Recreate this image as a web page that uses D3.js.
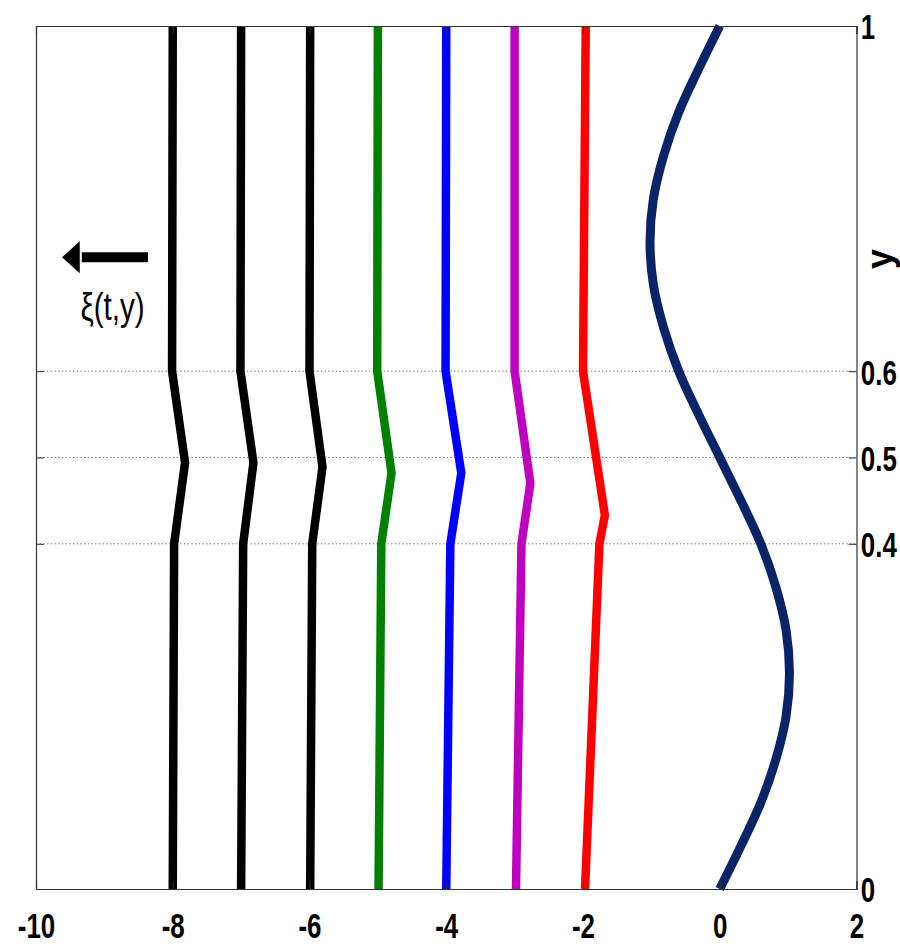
<!DOCTYPE html>
<html>
<head>
<meta charset="utf-8">
<script src="https://cdn.jsdelivr.net/npm/d3@7"></script>
<style>
  html, body { margin: 0; padding: 0; background: #fff; }
  svg { display: block; }
</style>
</head>
<body>
<svg id="chart" width="900" height="947"></svg>
<script>
// ---------- data ----------
const xTicks = [-10, -8, -6, -4, -2, 0, 2];
const yTicks = [0, 0.4, 0.5, 0.6, 1];
const yTickLabels = ["0", "0.4", "0.5", "0.6", "1"];
const gridY = [0.4, 0.5, 0.6];

// Fronts (kinked vertical lines): x and y of each vertex, bottom to top
const frontColors = ["#000000", "#000000", "#000000", "#008000", "#0000ff", "#bf00bf", "#ff0000"];
const frontX = [
  [-8.00, -7.98, -7.82, -8.01, -8.00],
  [-7.00, -6.97, -6.82, -7.01, -7.00],
  [-5.99, -5.96, -5.81, -6.00, -5.99],
  [-4.99, -4.95, -4.80, -5.01, -5.00],
  [-4.00, -3.94, -3.78, -4.01, -4.00],
  [-2.98, -2.90, -2.77, -3.00, -3.00],
  [-1.97, -1.76, -1.68, -2.00, -1.96]
];
const frontY = [
  [0, 0.4, 0.494, 0.6, 1],
  [0, 0.4, 0.494, 0.6, 1],
  [0, 0.4, 0.489, 0.6, 1],
  [0, 0.4, 0.482, 0.6, 1],
  [0, 0.4, 0.482, 0.6, 1],
  [0, 0.4, 0.470, 0.6, 1],
  [0, 0.4, 0.433, 0.6, 1]
];

// Wavy curve
const curveY = [0, 0.05, 0.1, 0.15, 0.2, 0.25, 0.3, 0.35, 0.4, 0.45, 0.5,
                0.55, 0.6, 0.65, 0.7, 0.75, 0.8, 0.85, 0.9, 0.95, 1];
const curveX = [0.0, 0.31, 0.60, 0.82, 0.97, 1.02, 0.97, 0.82, 0.60, 0.31, 0.0,
                -0.31, -0.60, -0.82, -0.97, -1.02, -0.97, -0.82, -0.60, -0.31, 0.0];
const curveColor = "#0b2468";

// ---------- layout ----------
const svg = d3.select("#chart");
const pL = 36, pR = 856.5, pT = 26, pB = 889;
const x = d3.scaleLinear().domain([-10, 2]).range([pL, pR]);
const y = d3.scaleLinear().domain([0, 1]).range([pB, pT]);

const FONT = "'Liberation Sans', Arial, sans-serif";
const SX = 0.72;

// grid (dotted)
svg.append("g").selectAll("line").data(gridY).join("line")
  .attr("x1", pL).attr("x2", pR)
  .attr("y1", d => y(d)).attr("y2", d => y(d))
  .attr("stroke", "#666").attr("stroke-width", 1)
  .attr("stroke-dasharray", "1.3,2.4");

// fronts
const lineGen = d3.line().x(d => x(d[0])).y(d => y(d[1]));
svg.append("g").selectAll("path").data(frontX.map((xs, i) => xs.map((v, j) => [v, frontY[i][j]])))
  .join("path")
  .attr("d", lineGen)
  .attr("fill", "none")
  .attr("stroke", (d, i) => frontColors[i])
  .attr("stroke-width", 8.5)
  .attr("stroke-linejoin", "miter");

// curve
svg.append("path")
  .datum(curveX.map((v, i) => [v, curveY[i]]))
  .attr("d", d3.line().x(d => x(d[0])).y(d => y(d[1])).curve(d3.curveCatmullRom))
  .attr("fill", "none")
  .attr("stroke", curveColor)
  .attr("stroke-width", 9);

// axes
const axisColor = "#333";
const gB = svg.append("g").attr("transform", `translate(0,${pB})`)
  .call(d3.axisBottom(x).tickValues(xTicks).tickSize(-8).tickPadding(23).tickFormat(d => String(d)));
const gT = svg.append("g").attr("transform", `translate(0,${pT})`)
  .call(d3.axisTop(x).tickValues(xTicks).tickSize(-8).tickFormat(""));
const gR = svg.append("g").attr("transform", `translate(${pR},0)`)
  .call(d3.axisRight(y).tickValues(yTicks).tickSize(-8).tickPadding(6)
    .tickFormat((d, i) => yTickLabels[i]));
const gL = svg.append("g").attr("transform", `translate(${pL},0)`)
  .call(d3.axisLeft(y).tickValues(yTicks).tickSize(-8).tickFormat(""));

[gB, gT, gR, gL].forEach(g => {
  g.attr("color", axisColor);
  g.selectAll(".domain").attr("stroke-width", 1.2);
  g.selectAll("text").attr("fill", "#000")
    .style("font-family", FONT).style("font-weight", "bold").style("font-size", "36px");
});
gB.selectAll("text").attr("transform", `scale(${SX},1)`);
gR.selectAll("text").attr("transform", `scale(${SX},1)`).attr("dy", "0.36em");

// y axis label (right)
svg.append("text")
  .attr("transform", `translate(${pR + 35},${y(0.73)}) rotate(-90)`)
  .attr("text-anchor", "middle")
  .style("font-family", FONT).style("font-weight", "bold").style("font-size", "36px")
  .text("y");

// annotation: arrow and ξ(t,y)
const ay = y(0.732);
const ax0 = x(-8.363), axTip = x(-9.62), axHead = x(-9.36);
svg.append("line")
  .attr("x1", ax0).attr("x2", axHead + 2).attr("y1", ay).attr("y2", ay)
  .attr("stroke", "#000").attr("stroke-width", 10);
svg.append("path")
  .attr("d", `M${axTip},${ay} L${axHead},${ay - 16} L${axHead},${ay + 16} Z`)
  .attr("fill", "#000");
svg.append("text")
  .attr("transform", `translate(${x(-8.88)},${ay + 63}) scale(0.78,1)`)
  .attr("text-anchor", "middle")
  .style("font-family", FONT).style("font-size", "38px")
  .text("ξ(t,y)");
</script>
</body>
</html>
